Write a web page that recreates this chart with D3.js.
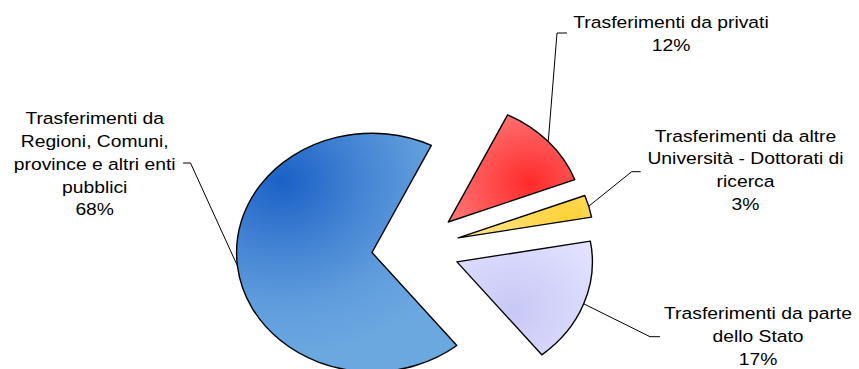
<!DOCTYPE html>
<html>
<head>
<meta charset="utf-8">
<script src="https://cdn.jsdelivr.net/npm/d3@7"></script>
<style>
  html, body { margin: 0; padding: 0; background: #fff; }
  svg { display: block; }
  text { font-family: "Liberation Sans", Arial, sans-serif; font-size: 17px; fill: #000; }
</style>
</head>
<body>
<svg id="chart" width="859" height="369"></svg>
<script>
// ---- data ----
const categories = [
  ["Trasferimenti da privati"],
  ["Trasferimenti da altre", "Università - Dottorati di", "ricerca"],
  ["Trasferimenti da parte", "dello Stato"],
  ["Trasferimenti da", "Regioni, Comuni,", "province e altri enti", "pubblici"]
];
const values = [12, 3, 17, 68];
const percentLabels = ["12%", "3%", "17%", "68%"];

// ---- layout ----
const W = 859, H = 369;
const sx = 1.135;               // horizontal stretch of the whole picture
const cx = 366.3, cy = 248.2;    // pie centre (unstretched coords)
const R = 119.3;                 // radius
const explode = 38.8;
const startDeg = 26;
const gradients = [
  {id: "gRed", fx: 72, fy: -39, r: 90, stops: [["0%", "#ff2a2a"], ["100%", "#ff8282"]]},
  {id: "gYel", fx: 95, fy: -20, r: 70, stops: [["0%", "#ffd23a"], ["100%", "#ffe27a"]]},
  {id: "gLav", fx: 50, fy: 48, r: 90, stops: [["0%", "#c8c8f6"], ["100%", "#e2e2ff"]]},
  {id: "gBlu", fx: -79, fy: -72, r: 175, stops: [["0%", "#1b60c6"], ["35%", "#3f80d2"], ["70%", "#5f9cdc"], ["100%", "#6ba8e0"]]}
];
// label placement (screen coords): centre x, first baseline, elbow point, end of horizontal stub
const labelLayout = [
  {x: 671, y: 28.5, elbow: [557, 33], end: [567, 33]},
  {x: 745.5, y: 141.7, elbow: [631.7, 171.7], end: [640.7, 171.7]},
  {x: 758, y: 319.5, elbow: [650, 336.7], end: [660, 336.7]},
  {x: 94.7, y: 124.3, elbow: [190.5, 163], end: [183, 163]}
];
const lineH = 22.8;

const svg = d3.select("#chart");
const defs = svg.append("defs");
gradients.forEach(g => {
  const rg = defs.append("radialGradient").attr("id", g.id)
    .attr("gradientUnits", "userSpaceOnUse")
    .attr("cx", g.fx).attr("cy", g.fy).attr("r", g.r);
  g.stops.forEach(s => rg.append("stop").attr("offset", s[0]).attr("stop-color", s[1]));
});

const root = svg.append("g").attr("transform", `scale(${sx},1)`);

const pie = d3.pie().sort(null)
  .startAngle(startDeg * Math.PI / 180)
  .endAngle((startDeg + 360) * Math.PI / 180);
const arcs = pie(values);
const arc = d3.arc().innerRadius(0).outerRadius(R);

arcs.forEach((a, i) => {
  const m = (a.startAngle + a.endAngle) / 2;
  const ox = cx + explode * Math.sin(m);
  const oy = cy - explode * Math.cos(m);
  a.ox = ox; a.oy = oy; a.mid = m;
  root.append("g").attr("transform", `translate(${ox},${oy})`)
    .append("path")
    .attr("d", arc(a))
    .attr("fill", `url(#${gradients[i].id})`)
    .attr("stroke", "#000")
    .attr("stroke-width", 1.4)
    .attr("stroke-linejoin", "round")
    .attr("vector-effect", "non-scaling-stroke");
});

// leader lines (screen coords)
const lines = svg.append("g");
arcs.forEach((a, i) => {
  const px = (a.ox + R * Math.sin(a.mid)) * sx;
  const py = a.oy - R * Math.cos(a.mid);
  const L = labelLayout[i];
  lines.append("path")
    .attr("d", d3.line()([[px, py], L.elbow, L.end]))
    .attr("fill", "none")
    .attr("stroke", "#000")
    .attr("stroke-width", 1);
});

// labels
arcs.forEach((a, i) => {
  const L = labelLayout[i];
  const rows = categories[i].concat([percentLabels[i]]);
  const t = root.append("text").attr("text-anchor", "middle");
  rows.forEach((r, j) => {
    t.append("tspan").attr("x", L.x / sx).attr("y", L.y + j * lineH).text(r);
  });
});
</script>
</body>
</html>
